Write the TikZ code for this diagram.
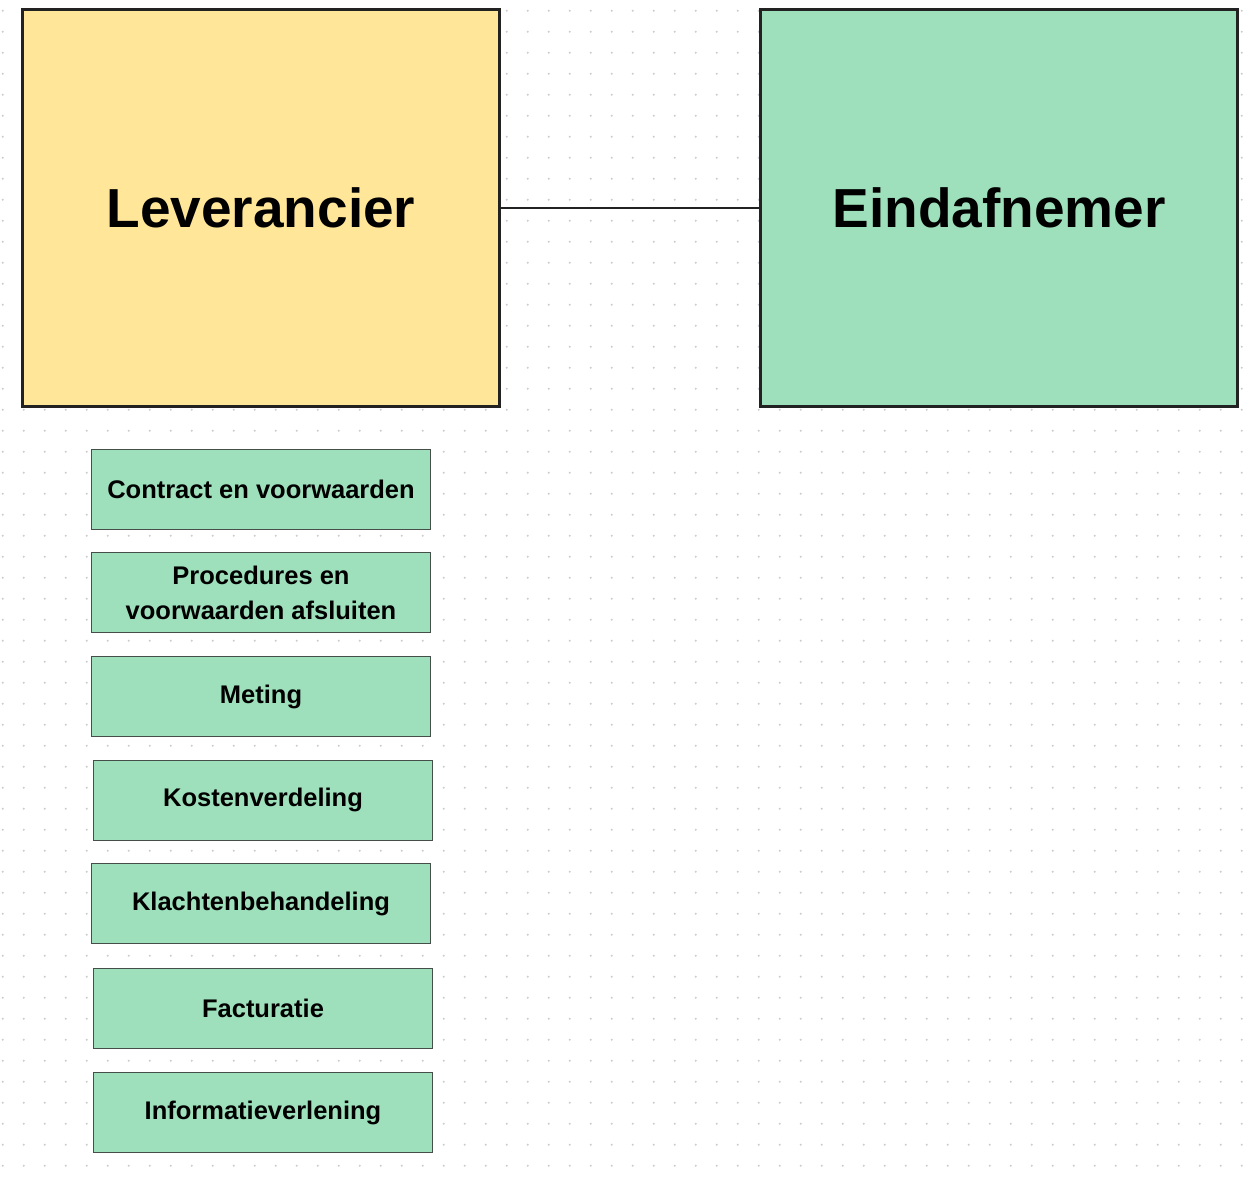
\documentclass[tikz,border=0pt]{standalone}
\usepackage{fontspec}
\setmainfont{Liberation Sans}
\definecolor{yellowfill}{RGB}{255,230,153}
\definecolor{greenfill}{RGB}{158,224,187}
\definecolor{bigborder}{RGB}{34,34,34}
\definecolor{smallborder}{RGB}{70,78,74}
\definecolor{dotcol}{RGB}{205,205,205}
\begin{document}
\begin{tikzpicture}[x=1pt,y=-1pt,
  bigbox/.style={draw=bigborder,line width=3pt,minimum width=477pt,minimum height=397pt,inner sep=0pt,font=\fontsize{55}{60}\selectfont\bfseries},
  itembox/.style={draw=smallborder,line width=1pt,fill=greenfill,minimum width=339pt,minimum height=80pt,inner sep=0pt,align=center,font=\fontsize{25.5}{35}\selectfont\bfseries},
  link/.style={draw=bigborder,line width=2.8pt}]
\useasboundingbox (0,0) rectangle (1259,1186);
\fill[white] (0,0) rectangle (1259,1186);
\foreach \i in {0,...,59}{\foreach \j in {0,...,55}{
  \fill[dotcol] (2.7+21*\i,10.7+21*\j) circle (1.1pt);
}}
\node[bigbox,fill=yellowfill] (lev) at (261,208) {Leverancier};
\node[bigbox,fill=greenfill] (eind) at (999,208) {Eindafnemer};
\draw[link] (lev.east) -- (eind.west);
\node[itembox] (contract) at (261,489) {Contract en voorwaarden};
\node[itembox] (procedures) at (261,592.5) {Procedures en\\voorwaarden afsluiten};
\node[itembox] (meting) at (261,696.5) {Meting};
\node[itembox] (kosten) at (263,800) {Kostenverdeling};
\node[itembox] (klachten) at (261,903.5) {Klachtenbehandeling};
\node[itembox] (factuur) at (263,1008.5) {Facturatie};
\node[itembox] (info) at (263,1112.5) {Informatieverlening};
\end{tikzpicture}
\end{document}
